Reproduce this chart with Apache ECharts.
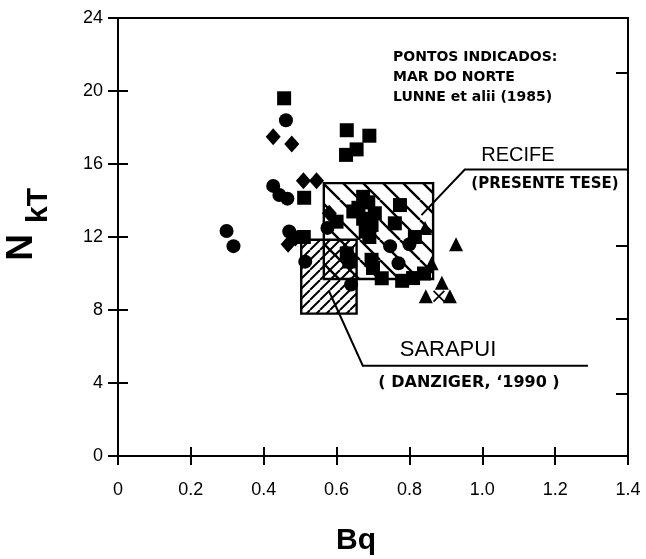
<!DOCTYPE html>
<html>
<head>
<meta charset="utf-8">
<script src="https://cdn.jsdelivr.net/npm/echarts@6/dist/echarts.min.js"></script>
<style>
  html, body { margin: 0; padding: 0; background: #fff; }
  #chart { width: 646px; height: 559px; }
</style>
</head>
<body>
<div id="chart"></div>
<script>
// Tick labels
const xTickLabels = ['0', '0.2', '0.4', '0.6', '0.8', '1.0', '1.2', '1.4'];
const yTickLabels = ['0', '4', '8', '12', '16', '20', '24'];

// North Sea points (Lunne et al., 1985): [Bq, NkT]
const squarePoints = [
  [0.456, 19.6], [0.628, 17.85], [0.69, 17.55], [0.655, 16.8], [0.626, 16.5],
  [0.511, 14.15], [0.51, 12.0], [0.66, 13.6], [0.687, 13.9], [0.673, 13.0],
  [0.705, 13.3], [0.696, 12.66], [0.673, 14.2], [0.646, 13.4], [0.68, 12.3],
  [0.69, 12.0], [0.774, 13.75], [0.76, 12.75], [0.60, 12.84], [0.696, 10.75],
  [0.70, 10.3], [0.628, 11.1], [0.635, 10.66], [0.724, 9.74], [0.78, 9.6],
  [0.81, 9.75], [0.84, 10.0], [0.815, 12.0]
];
const circlePoints = [
  [0.461, 18.4], [0.426, 14.8], [0.443, 14.3], [0.465, 14.1], [0.298, 12.33],
  [0.317, 11.5], [0.47, 12.3], [0.514, 10.65], [0.575, 12.5], [0.747, 11.5],
  [0.77, 10.56], [0.80, 11.6], [0.64, 9.4]
];
const diamondPoints = [
  [0.426, 17.5], [0.477, 17.1], [0.509, 15.08], [0.545, 15.08],
  [0.467, 11.6], [0.487, 11.95], [0.58, 13.3]
];
const trianglePoints = [
  [0.843, 12.5], [0.861, 10.56], [0.928, 11.6], [0.889, 9.5], [0.845, 8.75], [0.911, 8.75]
];
const crossPoints = [[0.881, 8.75]];

// Ranges: [Bq min, Bq max, NkT min, NkT max]
const recifeRange = [0.565, 0.865, 9.7, 14.95];
const sarapuiRange = [0.503, 0.655, 7.8, 11.85];

// Diagonal hatch tile; dir '\\' or '/'
function hatch(step, dir, lw) {
  const c = document.createElement('canvas');
  c.width = step; c.height = step;
  const g = c.getContext('2d');
  g.strokeStyle = '#000';
  g.lineWidth = lw;
  g.beginPath();
  for (let i = -1; i <= 1; i++) {
    if (dir === '\\') { g.moveTo(i * step, 0); g.lineTo(i * step + step, step); }
    else { g.moveTo(i * step + step, 0); g.lineTo(i * step, step); }
  }
  g.stroke();
  return { image: c, repeat: 'repeat' };
}
const fills = [hatch(20, '\\', 2.4), hatch(10, '/', 2)];

const black = '#000';
const axisLineStyle = { color: black, width: 2 };
const tickStyle = { color: black, width: 2 };
const labelFont = { color: black, fontSize: 18, fontFamily: 'Liberation Sans' };
const noteFont = 'bold 14px "DejaVu Sans"';

const chart = echarts.init(document.getElementById('chart'), null, { renderer: 'canvas' });

function scatter(name, data, symbol, size) {
  return {
    name, type: 'scatter', data, symbol, symbolSize: size,
    itemStyle: { color: black, opacity: 1 }, z: 5,
    xAxisIndex: 0, yAxisIndex: 0
  };
}

const option = {
  animation: false,
  backgroundColor: '#fff',
  grid: { left: 118, right: 18, top: 18, bottom: 103 },
  xAxis: [
    {
      type: 'value', min: 0, max: 1.4, interval: 0.2, position: 'bottom',
      axisLine: { show: true, onZero: false, lineStyle: axisLineStyle },
      axisTick: { show: true, inside: false, length: 9, lineStyle: tickStyle },
      axisLabel: Object.assign({ margin: 25, formatter: v => xTickLabels[Math.round(v / 0.2)] }, labelFont),
      splitLine: { show: false }
    },
    {
      type: 'value', min: 0, max: 1.4, interval: 0.2, position: 'bottom',
      axisLine: { show: false, onZero: false },
      axisTick: { show: true, inside: true, length: 9, lineStyle: tickStyle },
      axisLabel: { show: false }, splitLine: { show: false }
    },
    {
      type: 'value', min: 0, max: 1.4, position: 'top',
      axisLine: { show: true, onZero: false, lineStyle: axisLineStyle },
      axisTick: { show: false }, axisLabel: { show: false }, splitLine: { show: false }
    }
  ],
  yAxis: [
    {
      type: 'value', min: 0, max: 24, interval: 4, position: 'left',
      axisLine: { show: true, onZero: false, lineStyle: axisLineStyle },
      axisTick: { show: true, inside: false, length: 10, lineStyle: tickStyle },
      axisLabel: Object.assign({ margin: 15, formatter: v => yTickLabels[Math.round(v / 4)] }, labelFont),
      splitLine: { show: false }
    },
    {
      type: 'value', min: 0, max: 24, interval: 4, position: 'left',
      axisLine: { show: false, onZero: false },
      axisTick: { show: true, inside: true, length: 10, lineStyle: tickStyle },
      axisLabel: { show: false }, splitLine: { show: false }
    },
    {
      type: 'value', min: 0, max: 24, position: 'right',
      axisLine: { show: true, onZero: false, lineStyle: axisLineStyle },
      axisTick: { show: true, inside: true, length: 12, customValues: [3.4, 7.5, 11.5, 21], lineStyle: tickStyle },
      axisLabel: { show: false }, splitLine: { show: false }
    }
  ],
  series: [
    {
      // Hatched ranges: Recife and Sarapui
      type: 'custom', xAxisIndex: 0, yAxisIndex: 0, z: 2,
      data: [recifeRange, sarapuiRange],
      renderItem(params, api) {
        const a = api.coord([api.value(0), api.value(3)]);
        const b = api.coord([api.value(1), api.value(2)]);
        return {
          type: 'rect',
          shape: { x: a[0], y: a[1], width: b[0] - a[0], height: b[1] - a[1] },
          style: { fill: fills[params.dataIndex], stroke: black, lineWidth: 2.4 }
        };
      }
    },
    {
      // Leader lines from the ranges to their captions
      type: 'custom', xAxisIndex: 0, yAxisIndex: 0, z: 3,
      data: [
        [0.833, 13.2, 0.952, 15.7, 1.4, 15.7],
        [0.58, 9.0, 0.672, 4.95, 1.29, 4.95]
      ],
      renderItem(params, api) {
        const pts = [];
        for (let i = 0; i < 6; i += 2) pts.push(api.coord([api.value(i), api.value(i + 1)]));
        return { type: 'polyline', shape: { points: pts }, style: { fill: null, stroke: black, lineWidth: 2 } };
      }
    },
    scatter('square', squarePoints, 'rect', 14),
    scatter('circle', circlePoints, 'circle', 14),
    scatter('diamond', diamondPoints, 'diamond', [15, 17]),
    scatter('triangle', trianglePoints, 'triangle', 14),
    scatter('cross', crossPoints,
      'path://M0,1L1,0L5,4L9,0L10,1L6,5L10,9L9,10L5,6L1,10L0,9L4,5Z', 12)
  ],
  graphic: [
    {
      // Y axis title N with subscript kT, reading bottom to top
      type: 'group', x: 22, y: 234, rotation: Math.PI / 2,
      children: [
        { type: 'text', x: 0, y: 0, style: { text: 'N', font: 'bold 37px "Liberation Sans"', fill: black, align: 'right', verticalAlign: 'middle' } },
        { type: 'text', x: 11, y: 17, style: { text: 'kT', font: 'bold 30px "Liberation Sans"', fill: black, align: 'left', verticalAlign: 'middle' } }
      ]
    },
    { type: 'text', x: 356, y: 541, style: { text: 'Bq', font: 'bold 30px "Liberation Sans"', fill: black, align: 'center', verticalAlign: 'middle' } },
    { type: 'text', x: 393, y: 57, style: { text: 'PONTOS INDICADOS:', font: noteFont, fill: black, verticalAlign: 'middle' } },
    { type: 'text', x: 393, y: 77, style: { text: 'MAR DO NORTE', font: noteFont, fill: black, verticalAlign: 'middle' } },
    { type: 'text', x: 393, y: 97, style: { text: 'LUNNE et alii (1985)', font: noteFont, fill: black, verticalAlign: 'middle' } },
    { type: 'text', x: 518, y: 155, style: { text: 'RECIFE', font: '20px "Liberation Sans"', fill: black, align: 'center', verticalAlign: 'middle' } },
    { type: 'text', x: 545, y: 184, style: { text: '(PRESENTE TESE)', font: 'bold 15px "DejaVu Sans"', fill: black, align: 'center', verticalAlign: 'middle' } },
    { type: 'text', x: 448, y: 350, style: { text: 'SARAPUI', font: '22px "Liberation Sans"', fill: black, align: 'center', verticalAlign: 'middle' } },
    { type: 'text', x: 469, y: 383, style: { text: '( DANZIGER, \u20181990 )', font: 'bold 16px "DejaVu Sans"', fill: black, align: 'center', verticalAlign: 'middle' } }
  ]
};
chart.setOption(option);
</script>
</body>
</html>
